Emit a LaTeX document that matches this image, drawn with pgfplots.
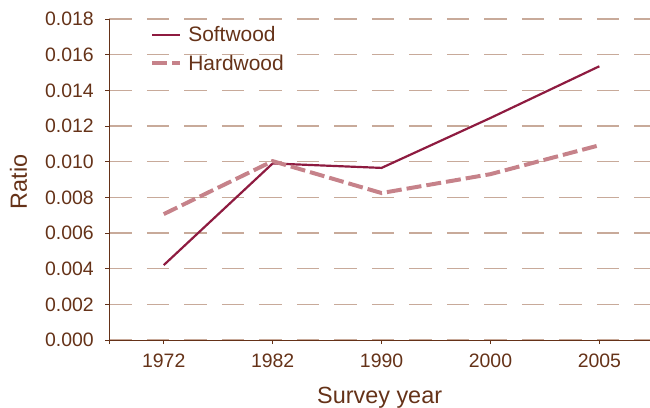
\documentclass[border=0pt]{standalone}
\usepackage{pgfplots}
\pgfplotsset{compat=1.18}
\usepackage{fontspec}
\setmainfont{Liberation Sans}
\definecolor{txt}{HTML}{653218}
\definecolor{gridc}{HTML}{C8AA9A}
\definecolor{soft}{HTML}{8E1B40}
\definecolor{hard}{HTML}{C6828A}
\begin{document}
\begin{tikzpicture}
\begin{axis}[
  scale only axis,
  width=540.7bp, height=321bp,
  xmin=-0.5, xmax=4.465,
  ymin=0, ymax=0.018,
  xtick={-0.5,0,1,2,3,4},
  xticklabels={,1972,1982,1990,2000,2005},
  ytick={0,0.002,...,0.018},
  yticklabel style={/pgf/number format/fixed,/pgf/number format/fixed zerofill,/pgf/number format/precision=3},
  scaled y ticks=false,
  /pgf/number format/assume math mode=true,
  axis x line*=bottom, axis y line*=left,
  axis line style={txt, line width=0.9pt, -},
  tick style={txt, line width=0.9pt},
  xtick align=outside, ytick align=outside,
  major tick length=4bp,
  ymajorgrids,
  grid style={gridc, line width=1.2pt, dash pattern=on 22.5bp off 15bp},
  tick label style={font=\fontsize{19.5}{21}\selectfont, text=txt},
  xticklabel style={font=\fontsize{19.5}{21}\selectfont, anchor=base, yshift=-23bp},
  yticklabel style={font=\fontsize{19.5}{21}\selectfont, anchor=east, xshift=-8bp},
  xlabel={Survey year}, ylabel={Ratio},
  label style={font=\fontsize{23.5}{25}\selectfont, text=txt},
  xlabel style={at={(axis description cs:0.5,0)}, anchor=base, yshift=-63bp},
  ylabel style={at={(axis description cs:0,0.5)}, anchor=center, yshift=90.8bp, xshift=-2.5bp},
  legend style={draw=none, fill=none, at={(axis description cs:0.07,0.99)}, anchor=north west, font=\fontsize{21}{23}\selectfont, text=txt, row sep=8bp},
  legend image code/.code={\draw[#1] (0bp,0bp) -- (28bp,0bp); \path (32bp,0bp);},
  legend cell align=left,
]
\coordinate (o) at (rel axis cs:0,0);
\coordinate (t) at (rel axis cs:1,1);
\addplot[soft, line width=2.2pt] coordinates {(0,0.0042) (1,0.0099) (2,0.00965) (3,0.01245) (4,0.01535)};
\addlegendentry{Softwood}
\addplot[hard, line width=4pt, dash pattern=on 15bp off 5bp] coordinates {(0,0.00706) (1,0.01003) (2,0.00824) (3,0.0093) (4,0.01092)};
\addlegendentry{Hardwood}
\end{axis}
\pgfresetboundingbox
\path ([xshift=-109.3bp,yshift=-68bp]o) rectangle ([yshift=19bp]t);
\end{tikzpicture}
\end{document}
